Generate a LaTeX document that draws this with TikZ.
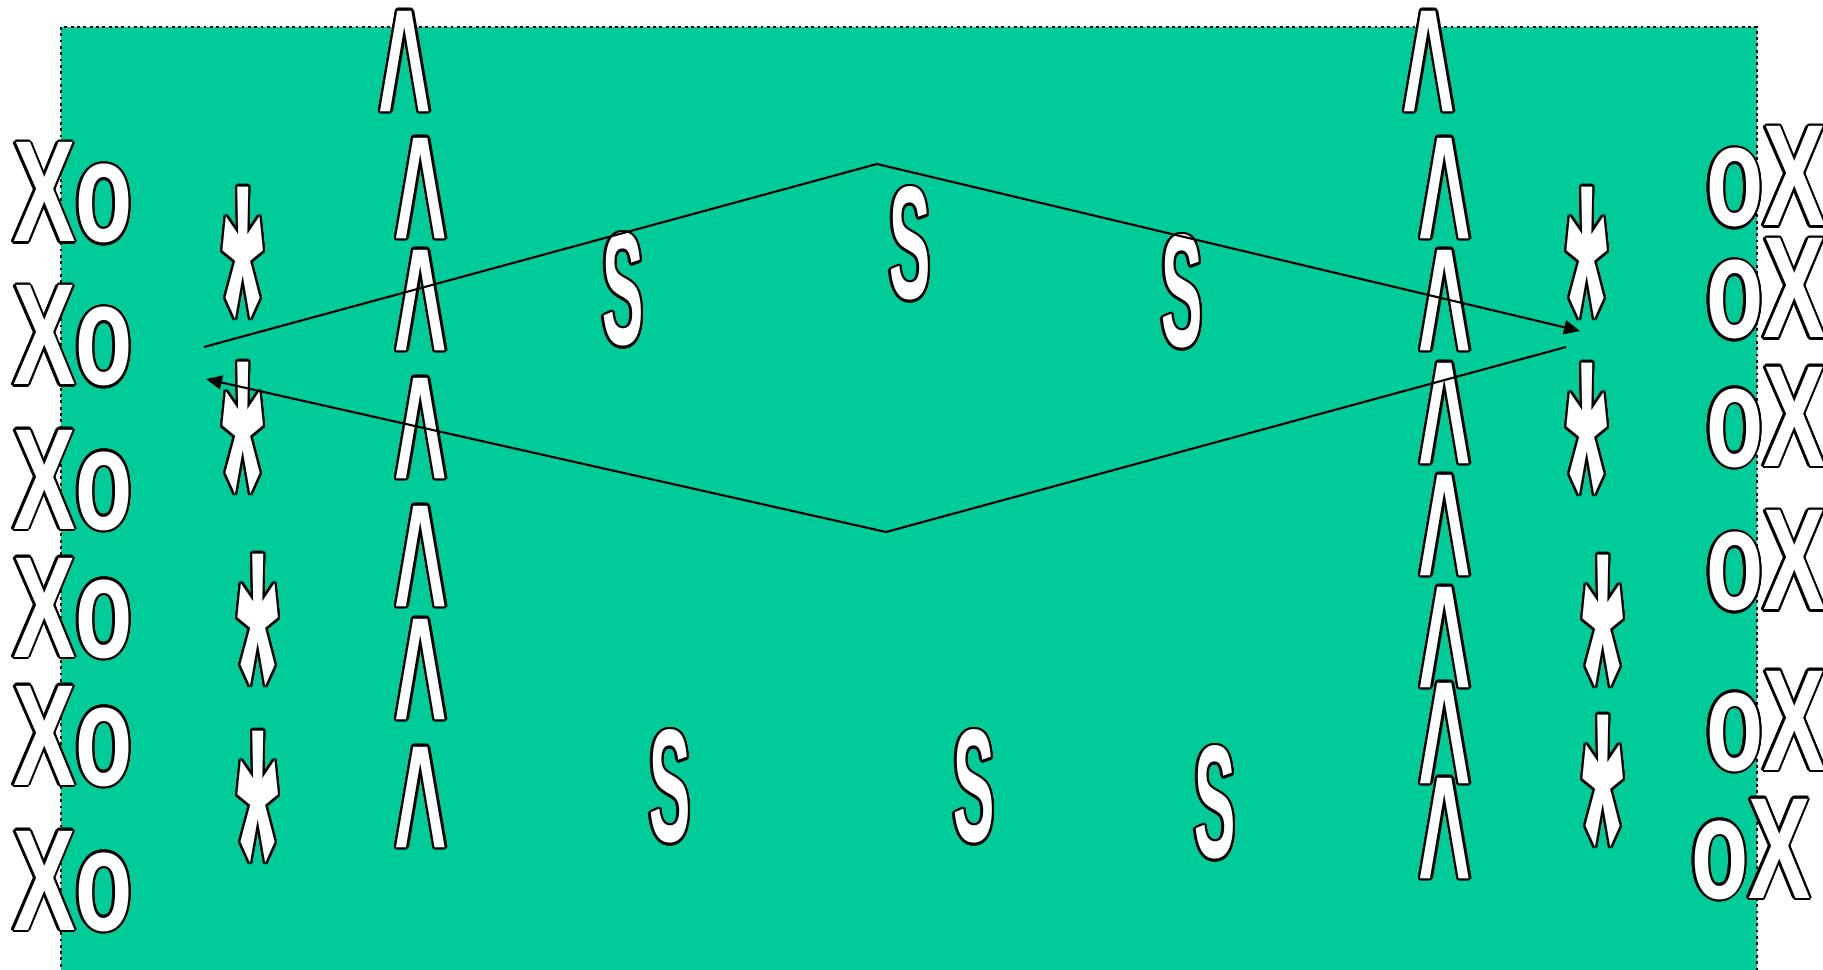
\documentclass[tikz,border=0pt]{standalone}
\usepackage{fontspec}
\setmainfont{Liberation Sans}
\usepackage{contour}
\contourlength{0.7pt}
\usetikzlibrary{arrows.meta}
\definecolor{fieldgreen}{HTML}{00CC99}

% outlined, stretched letters
\newcommand{\marktext}[3]{\contour{black}{\scalebox{#1}[#2]{#3}}}
\newcommand{\letterXo}[1]{\marktext{1.33}{2.05}{#1}}
\newcommand{\letterS}[1]{\marktext{0.88}{2.28}{#1}}
\newcommand{\letterCaret}[1]{\marktext{1.28}{3.27}{#1}}
\newcommand{\letterStar}[1]{\marktext{1.50}{5.05}{#1}}

\begin{document}
\begin{tikzpicture}[x=0.01cm, y=-0.01cm,
    font=\fontsize{20}{24}\selectfont\bfseries,
    field/.style={fill=fieldgreen, draw=black, line width=0.8pt, densely dotted},
    glyph/.style={inner sep=0pt, outer sep=0pt, text=white},
    xo/.style={glyph, anchor=base west},
    topmark/.style={glyph, anchor=north},
    pass/.style={line width=0.6pt, draw=black},
    passarrow/.style={pass, -{Triangle[length=1.6mm, width=1.4mm]}}
  ]
    \useasboundingbox (0,0) rectangle (1823,970);
    \path[field] (61,27) rectangle (1757,980);

    % left team
    \node[xo] (xoL1) at (13,242) {\letterXo{Xo}};
    \node[xo] (xoL2) at (13,385) {\letterXo{Xo}};
    \node[xo] (xoL3) at (13,529) {\letterXo{Xo}};
    \node[xo] (xoL4) at (13,657) {\letterXo{Xo}};
    \node[xo] (xoL5) at (13,785) {\letterXo{Xo}};
    \node[xo] (xoL6) at (13,930) {\letterXo{Xo}};

    \node[topmark] (starL1) at (243,187) {\letterStar{*}};
    \node[topmark] (starL2) at (243,362) {\letterStar{*}};
    \node[topmark] (starL3) at (258,554) {\letterStar{*}};
    \node[topmark] (starL4) at (258,731) {\letterStar{*}};

    \node[topmark] (caretL0) at (405,11) {\letterCaret{\^{}}};
    \node[topmark] (caretL1) at (421,138) {\letterCaret{\^{}}};
    \node[topmark] (caretL2) at (421,250) {\letterCaret{\^{}}};
    \node[topmark] (caretL3) at (421,378) {\letterCaret{\^{}}};
    \node[topmark] (caretL4) at (421,506) {\letterCaret{\^{}}};
    \node[topmark] (caretL5) at (421,619) {\letterCaret{\^{}}};
    \node[topmark] (caretL6) at (421,747) {\letterCaret{\^{}}};

    % middle
    \node[topmark] (sA) at (623,233) {\letterS{S}};
    \node[topmark] (sB) at (910,187) {\letterS{S}};
    \node[topmark] (sC) at (1182,235) {\letterS{S}};
    \node[topmark] (sD) at (670,730) {\letterS{S}};
    \node[topmark] (sE) at (974,730) {\letterS{S}};
    \node[topmark] (sF) at (1215,746) {\letterS{S}};

    % right team
    \node[topmark] (caretR0) at (1429,11) {\letterCaret{\^{}}};
    \node[topmark] (caretR1) at (1445,138) {\letterCaret{\^{}}};
    \node[topmark] (caretR2) at (1445,250) {\letterCaret{\^{}}};
    \node[topmark] (caretR3) at (1445,363) {\letterCaret{\^{}}};
    \node[topmark] (caretR4) at (1445,475) {\letterCaret{\^{}}};
    \node[topmark] (caretR5) at (1445,587) {\letterCaret{\^{}}};
    \node[topmark] (caretR6) at (1445,683) {\letterCaret{\^{}}};
    \node[topmark] (caretR7) at (1445,778) {\letterCaret{\^{}}};

    \node[topmark] (starR1) at (1587,187) {\letterStar{*}};
    \node[topmark] (starR2) at (1587,363) {\letterStar{*}};
    \node[topmark] (starR3) at (1603,555) {\letterStar{*}};
    \node[topmark] (starR4) at (1603,715) {\letterStar{*}};

    \node[xo] (oxR1) at (1706,226) {\letterXo{oX}};
    \node[xo] (oxR2) at (1706,338) {\letterXo{oX}};
    \node[xo] (oxR3) at (1706,466) {\letterXo{oX}};
    \node[xo] (oxR4) at (1706,610) {\letterXo{oX}};
    \node[xo] (oxR5) at (1706,770) {\letterXo{oX}};
    \node[xo] (oxR6) at (1691,898) {\letterXo{oX}};

    % passes
    \coordinate (passAstart) at (204,347);
    \coordinate (passAtop) at (877,164);
    \coordinate (passAend) at (1580,331);
    \coordinate (passBstart) at (1566,347);
    \coordinate (passBbottom) at (886,532);
    \coordinate (passBend) at (206,379);
    \draw[passarrow] (passAstart) -- (passAtop) -- (passAend);
    \draw[passarrow] (passBstart) -- (passBbottom) -- (passBend);
\end{tikzpicture}
\end{document}
